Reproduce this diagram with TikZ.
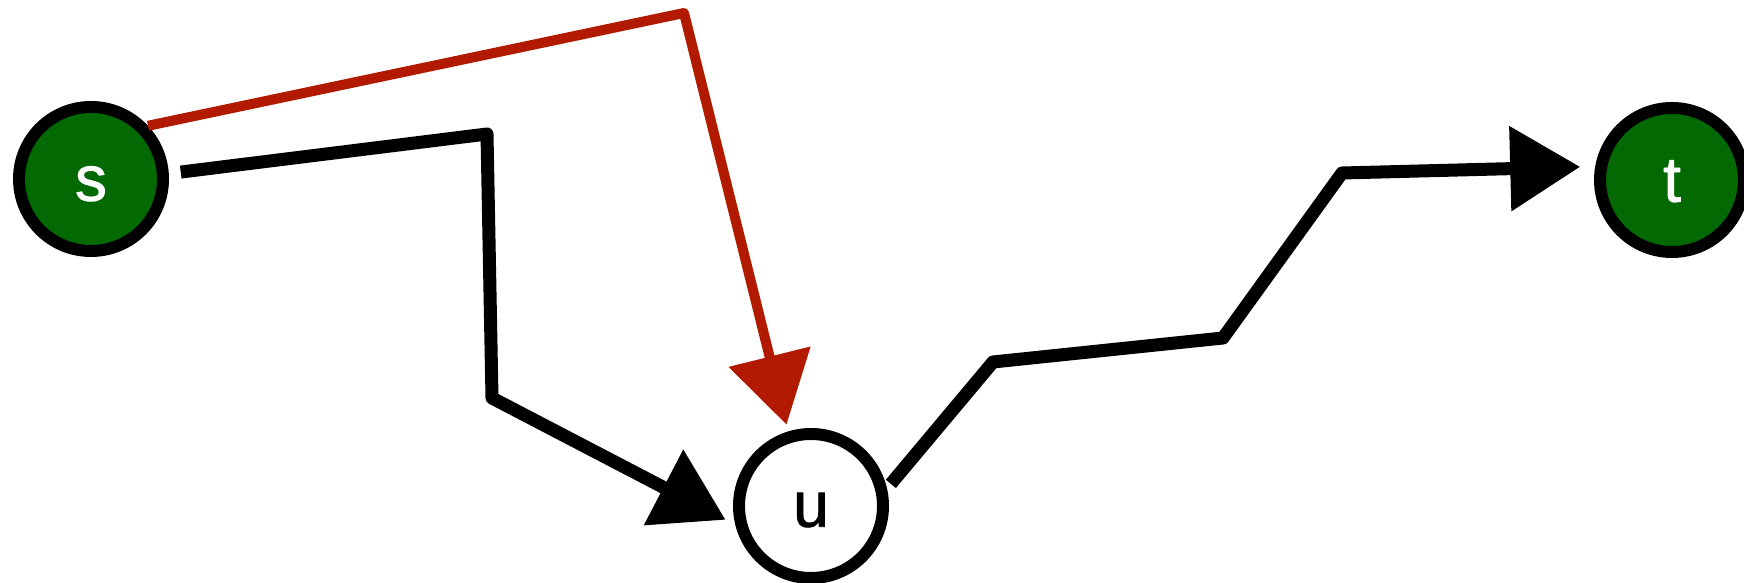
\documentclass[tikz,border=0pt]{standalone}
\usepackage{fontspec}
\setmainfont{Liberation Sans}
\newfontfamily\labelfont[FakeBold=1.3]{Liberation Sans}
\usetikzlibrary{arrows.meta}
\definecolor{nodegreen}{RGB}{3,106,3}
\definecolor{pathred}{RGB}{178,26,0}
\begin{document}
\begin{tikzpicture}[x=0.5pt,y=0.5pt,
  vertex/.style={circle, draw=black, line width=6pt, minimum size=72pt, inner sep=0pt,
    font=\labelfont\fontsize{32}{36}\selectfont},
  endpoint/.style={vertex, fill=nodegreen, text=white},
  midvertex/.style={vertex, fill=white, text=black},
  conn/.style={line width=6.5pt, line join=round, -{Triangle[length=35pt,width=41pt]}},
  blackconn/.style={conn, draw=black},
  redconn/.style={conn, draw=pathred, line width=5pt},
]
\useasboundingbox (0,0) rectangle (1744,583);
\node[endpoint] (s) at (91,404) {\rule{0pt}{22pt}s};
\node[endpoint] (t) at (1672,403) {\rule{0pt}{22pt}t};
\node[midvertex] (u) at (811,77) {\rule{0pt}{21pt}u};
\coordinate (a1) at (487,449);
\coordinate (a2) at (492,185);
\coordinate (r1) at (684,570);
\coordinate (b1) at (993,221);
\coordinate (b2) at (1223,245);
\coordinate (b3) at (1342,410);
\draw[redconn, shorten >=3.5pt] (s.43) -- (r1) -- (u.107);
\draw[blackconn, shorten <=6pt, shorten >=5.5pt] (s.4) -- (a1) -- (a2) -- (u.194);
\draw[blackconn, shorten <=3pt, shorten >=7.5pt] (u.13) -- (b1) -- (b2) -- (b3) -- (t.170);
\end{tikzpicture}
\end{document}
